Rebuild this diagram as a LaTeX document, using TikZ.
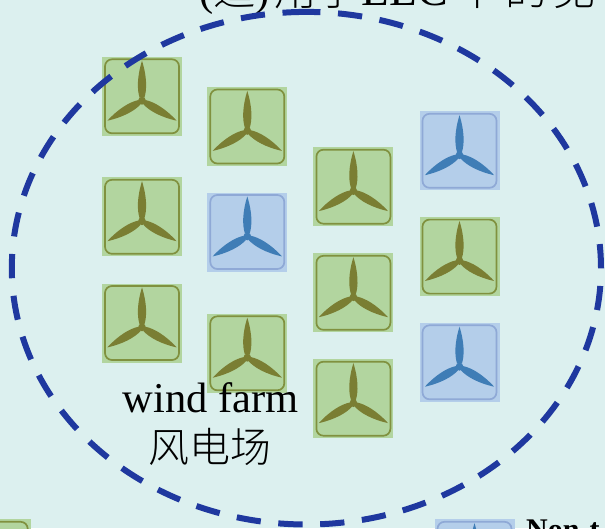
\documentclass[tikz,border=0pt]{standalone}
\usepackage{fontspec}
\setmainfont{Liberation Serif}
\newfontfamily\cjk{Noto Sans CJK SC Light}
\definecolor{bgc}{HTML}{DCF0EF}
\definecolor{gfill}{HTML}{B2D59F}
\definecolor{gline}{HTML}{80913F}
\definecolor{gblade}{HTML}{7A7E33}
\definecolor{bfill}{HTML}{B4CEEA}
\definecolor{bline}{HTML}{8FA9D6}
\definecolor{bblade}{HTML}{3F7DB6}
\definecolor{ringc}{HTML}{1F389F}
\tikzset{
  tile/.style={minimum width=80pt,minimum height=79pt,inner sep=0pt,outer sep=0pt},
  greentile/.style={tile,fill=gfill},
  bluetile/.style={tile,fill=bfill},
  txt/.style={inner sep=0pt,font=\fontsize{42.5pt}{46pt}\selectfont,text=black}
}
% #1 node name, #2 position, #3 style, #4 frame colour, #5 blade colour
\newcommand{\turbine}[5]{%
  \node[#3] (#1) at #2 {};
  \begin{scope}[shift={(#1.center)}]
    \draw[#4,line width=1.7pt,rounded corners=7pt] (-37,-37) rectangle (37,37);
    \begin{scope}[shift={(0,4.4)}]
      \foreach \a in {0,120,240}{
        \fill[#5,rotate=\a] (-2.4,-3) .. controls (-5,-11) and (-5,-24) .. (0,-40)
           .. controls (5,-24) and (5,-11) .. (2.4,-3) -- cycle;
      }
      \fill[#5] (0,0) circle (3.9pt);
    \end{scope}
  \end{scope}}
\begin{document}
\begin{tikzpicture}[x=1pt,y=-1pt]
\useasboundingbox (0,0) rectangle (605,528);
\clip (0,0) rectangle (605,528);
\fill[bgc] (0,0) rectangle (605,528);
\node[txt,anchor=base west] (cap) at (199,5) {({\cjk 适})\hspace{4pt}{\cjk 用于}\hspace{2pt}{\fontsize{46pt}{46pt}\selectfont LLC}\hspace{9pt}{\cjk 中\hspace{6pt}的\hspace{6pt}见}};
% turbines
\turbine{a1}{(142,96.3)}{greentile}{gline}{gblade}
\turbine{a2}{(142,216.8)}{greentile}{gline}{gblade}
\turbine{a3}{(142,323)}{greentile}{gline}{gblade}
\turbine{b1}{(247.3,126.5)}{greentile}{gline}{gblade}
\turbine{b2}{(247.3,232)}{bluetile}{bline}{bblade}
\turbine{b3}{(247.3,353.3)}{greentile}{gline}{gblade}
\turbine{c1}{(353.4,186.7)}{greentile}{gline}{gblade}
\turbine{c2}{(353.4,292.8)}{greentile}{gline}{gblade}
\turbine{c3}{(353.4,398.7)}{greentile}{gline}{gblade}
\turbine{d1}{(459.5,150.8)}{bluetile}{bline}{bblade}
\turbine{d2}{(459.5,256.6)}{greentile}{gline}{gblade}
\turbine{d3}{(459.5,362.3)}{bluetile}{bline}{bblade}
\turbine{e1}{(-9.3,558.8)}{greentile}{gline}{gblade}
\turbine{e2}{(474.5,558.8)}{bluetile}{bline}{bblade}
% ring
\draw[ringc,line width=6pt,dash pattern=on 24.3pt off 17.63pt]
  plot[domain=92:-268,samples=361] ({306.4+294.6*cos(\x)},{268.2-256.3*sin(\x)});
\node[txt,anchor=base] (wf) at (210.5,412.5) {wind farm};
\node[txt,anchor=base,font=\fontsize{41pt}{46pt}\selectfont\cjk] (wfc) at (210,462.5) {风电场};
\node[txt,anchor=base west,font=\fontsize{30pt}{30pt}\selectfont\bfseries] (nt) at (526,539) {Non-t};
\end{tikzpicture}
\end{document}
